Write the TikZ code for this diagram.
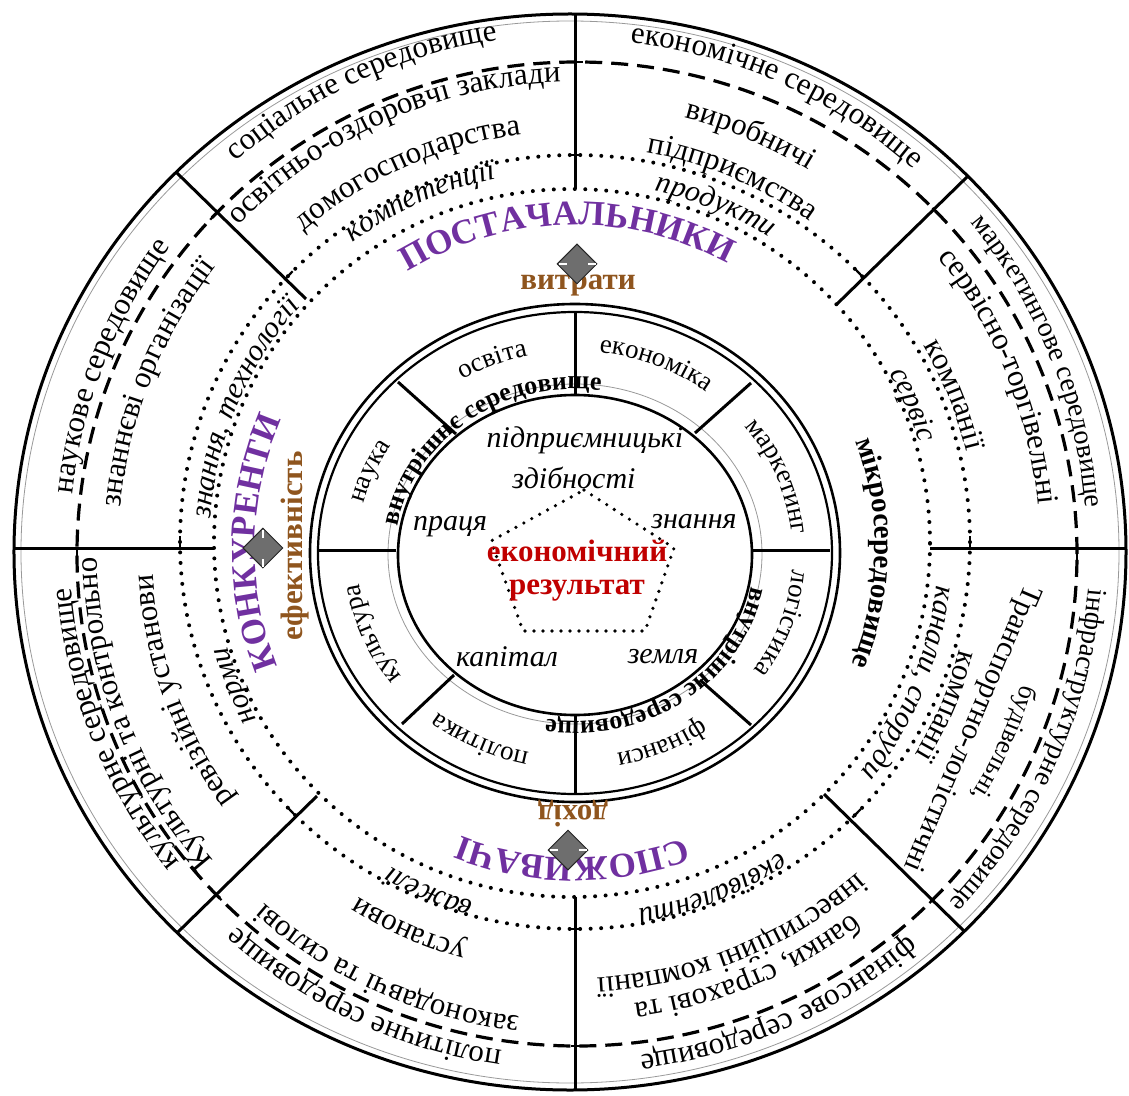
\documentclass[tikz,border=0pt]{standalone}
\usepackage{fontspec}
\setmainfont{Liberation Serif}
\usetikzlibrary{decorations.text,shapes.geometric}
\definecolor{purp}{RGB}{112,48,160}
\definecolor{brn}{RGB}{143,85,30}
\definecolor{dred}{RGB}{192,0,0}
\definecolor{dmdgray}{RGB}{110,110,110}
\newcommand\fOut{\fontsize{31pt}{31pt}\selectfont}
\newcommand\fOutS{\fontsize{28pt}{28pt}\selectfont}
\newcommand\fSm{\fontsize{26pt}{26pt}\selectfont}
\newcommand\fIt{\fontsize{30pt}{30pt}\selectfont\itshape}
\newcommand\fIn{\fontsize{27pt}{27pt}\selectfont}
\newcommand\fW{\fontsize{26pt}{26pt}\selectfont\bfseries}
\newcommand\fP{\fontsize{35pt}{35pt}\selectfont\bfseries}
\newcommand\fM{\fontsize{29pt}{29pt}\selectfont\bfseries}
% text along a circular arc (clockwise), centred on angle #2
\newcommand\arcT[5]{\path[decorate,decoration={text along path,text align=center,text={|#4|#5}}] ({#2+#3}:#1) arc[start angle={#2+#3},end angle={#2-#3},radius=#1];}
\newcommand\arcTc[6]{\path[decorate,decoration={text along path,text align=center,text color=#6,text={|#4|#5}}] ({#2+#3}:#1) arc[start angle={#2+#3},end angle={#2-#3},radius=#1];}
% text along an elliptic arc with centre (#1,#2)
\newcommand\arcE[8]{\path[shift={(#1,#2)},decorate,decoration={text along path,text align=center,text={|#7|#8}}] ({#5+#6}:#3 and #4) arc[start angle={#5+#6},end angle={#5-#6},x radius=#3,y radius=#4];}
\begin{document}
\begin{tikzpicture}[x=1pt,y=1pt,
  sline/.style={line width=3pt},
  tickst/.style={line width=2.2pt},
  dashline/.style={line width=3.2pt,dash pattern=on 17pt off 9pt},
  dotline/.style={line width=4pt,dash pattern=on 0pt off 10.5pt,line cap=round},
  pdot/.style={line width=3.6pt,dash pattern=on 0pt off 9pt,line cap=round},
  itl/.style={font=\fontsize{30pt}{30pt}\selectfont\itshape,inner sep=0pt},
  redb/.style={font=\fontsize{31pt}{31pt}\selectfont\bfseries,text=dred,inner sep=0pt},
  brnb/.style={font=\fontsize{31pt}{31pt}\selectfont\bfseries,text=brn,inner sep=0pt},
  dmd/.style={diamond,draw=black!85,fill=dmdgray,line width=1pt,minimum width=40pt,minimum height=40pt,inner sep=0pt},
  notch/.style={white,line width=1.4pt}]
\useasboundingbox (-575,-547) rectangle (554,548);

% ---- circles ----
\draw[line width=3pt] (-5,-4) ellipse[x radius=556,y radius=538];
\draw[line width=0.8pt,black!40] (-5,-4) ellipse[x radius=549,y radius=531];
\draw[dashline] (2,-6) ellipse[x radius=500,y radius=492];
\draw[dotline] (0,6) ellipse[x radius=395,y radius=387];
\draw[dotline] (-3,5) ellipse[x radius=358,y radius=354];
\draw[line width=2.6pt] (0,-5) ellipse[x radius=265,y radius=249];
\draw[line width=2.2pt] (0,-5) ellipse[x radius=257,y radius=241];
\draw[line width=0.8pt,black!40] (0,-6) ellipse[x radius=187,y radius=170];
\draw[line width=2.6pt] (0,-7) ellipse[x radius=177,y radius=160];

% ---- outer radial lines ----
\draw[sline] (0,534) -- (0,359);
\draw[sline] (0,-349) -- (0,-542);
\draw[sline] (-561,0) -- (-361,0);
\draw[sline] (355,0) -- (551,0);
\draw[sline] (-398,375) -- (-269,249);
\draw[sline] (393,372) -- (262,244);
\draw[sline] (249,-246) -- (390,-384);
\draw[sline] (-258,-248) -- (-398,-385);
% small cross ticks where the radial lines cross the dashed and dotted rings
\foreach \a in {90,44,0,-44.5,-90,-136,180,136.5}{
  \draw[tickst,shift={(2,-6)}] ([shift={(\a+90:6)}]\a:500 and 492) -- ([shift={(\a-90:6)}]\a:500 and 492);
  \draw[tickst,shift={(0,6)}] ([shift={(\a+90:6)}]\a:395 and 387) -- ([shift={(\a-90:6)}]\a:395 and 387);
}

% ---- inner radial lines ----
\draw[sline] (0,236) -- (0,153);
\draw[sline] (-177,166) -- (-119,114);
\draw[sline] (176,165) -- (120,115);
\draw[sline] (177,-2) -- (255,-2);
\draw[sline] (125,-132) -- (176,-177);
\draw[sline] (0,-167) -- (0,-246);
\draw[sline] (-121,-127) -- (-173,-176);
\draw[sline] (-257,-2) -- (-179,-2);

% ---- pentagon ----
\draw[pdot] (9,58) -- (99,0) -- (70,-83) -- (-52,-83) -- (-84,7) -- cycle;

% ---- outer ring texts ----
\arcT{514}{115}{40}{\fOut}{соціальне середовище}
\arcT{508}{66}{40}{\fOut}{економічне середовище}
\arcT{512}{22}{40}{\fOutS}{маркетингове середовище}
\arcT{515}{-24}{40}{\fOutS}{інфраструктурне середовище}
\arcT{511}{-66}{40}{\fOut}{фінансове середовище}
\arcT{508}{-115}{40}{\fOut}{політичне середовище}
\arcT{505}{201.5}{40}{\fOut}{культурне середовище}
\arcT{505}{158.6}{40}{\fOut}{наукове середовище}

% ---- middle ring texts ----
\arcT{466}{114}{40}{\fOut}{освітньо-оздоровчі заклади}
\arcT{417}{114}{40}{\fOut}{домогосподарства}
\arcT{378}{114}{30}{\fIt}{компетенції}
\arcT{444}{67}{30}{\fOut}{виробничі}
\arcT{402}{67}{30}{\fOut}{підприємства}
\arcT{366}{67.7}{30}{\fIt}{продукти}
\arcT{465}{22}{40}{\fOut}{сервісно-торгівельні}
\arcT{403}{22}{30}{\fOut}{компанії}
\arcT{360}{23}{30}{\fIt}{сервіс}
\arcT{467}{-24.5}{25}{\fSm}{будівельні,}
\path[decorate,decoration={text along path,text align=center,text={|\fontsize{30pt}{30pt}\selectfont|Транспортно-логістичні}}] (458,-18) -- (322,-336);
\arcT{398}{-23}{30}{\fOut}{компанії}
\arcT{363}{-22}{35}{\fIt}{канали, споруди}
\arcT{459}{-67.7}{40}{\fOut}{банки, страхові та}
\arcT{430}{-68}{40}{\fOut}{інвестиційні компанії}
\arcT{367}{-68}{30}{\fIt}{еквіваленти}
\arcT{472}{-114}{40}{\fOut}{законодавчі та силові}
\arcT{411}{-113.5}{30}{\fOut}{установи}
\arcT{368}{-113}{30}{\fIt}{важелі}
\arcT{478}{201}{40}{\fOut}{Культурні та контрольно}
\arcT{423}{200}{40}{\fOut}{ревізійні установи}
\arcT{361}{202}{25}{\fIt}{норми}
\arcT{456}{158.4}{40}{\fOut}{знаннєві організації}
\arcT{366}{157}{40}{\fIt}{знання, технології}

% ---- big labels ----
\arcTc{323}{91.5}{45}{\fP}{ПОСТАЧАЛЬНИКИ}{purp}
\arcTc{320}{179}{40}{\fP}{КОНКУРЕНТИ}{purp}
\arcTc{310}{-90.5}{40}{\fP}{СПОЖИВАЧІ}{purp}
\arcT{300}{-1}{40}{\fM}{мікросередовище}

% ---- inner ring labels ----
\arcE{0}{-6}{218}{203}{112}{30}{\fIn}{освіта}
\arcE{0}{-6}{218}{203}{68}{30}{\fIn}{економіка}
\arcE{0}{-6}{218}{203}{22}{30}{\fIn}{маркетинг}
\arcE{0}{-6}{218}{203}{-19.4}{30}{\fIn}{логістика}
\arcE{0}{-6}{218}{203}{-66.5}{30}{\fIn}{фінанси}
\arcE{0}{-6}{218}{203}{-115.8}{30}{\fIn}{політика}
\arcE{0}{-6}{218}{203}{202.5}{30}{\fIn}{культура}
\arcE{0}{-6}{218}{203}{157}{30}{\fIn}{наука}
\arcE{0}{-7}{180}{166}{126.5}{60}{\fW}{внутрішнє середовище}
\arcE{0}{-7}{180}{166}{-54.5}{60}{\fW}{внутрішнє середовище}

% ---- centre ----
\node[itl] (pidpr) at (10,108) {підприємницькі};
\node[itl] (zdib) at (-1,70) {здібності};
\node[itl] (pratsia) at (-125,21) {праця};
\node[itl] (znannia) at (119,26) {знання};
\node[itl] (kapital) at (-68,-109) {капітал};
\node[itl] (zemlia) at (88,-109) {земля};
\node[redb] (ekon) at (2,-3) {економічний};
\node[redb] (rez) at (2,-43) {результат};

% ---- brown labels ----
\node[brnb] (vytraty) at (3,263) {витрати};
\node[brnb,rotate=180] (dokhid) at (-2,-266) {дохід};
\node[brnb,rotate=90] (efekt) at (-280,2) {ефективність};

% ---- diamonds ----
\node[dmd] (dtop) at (2,284) {};
\node[dmd] (dleft) at (-312,0) {};
\node[dmd] (dbot) at (-7,-302) {};
\draw[notch] ([xshift=2pt]dtop.west) -- ++(8,0);
\draw[notch] ([xshift=-2pt]dtop.east) -- ++(-8,0);
\draw[notch] ([xshift=2pt]dbot.west) -- ++(8,0);
\draw[notch] ([xshift=-2pt]dbot.east) -- ++(-8,0);
\draw[notch] ([yshift=-2pt]dleft.north) -- ++(0,-8);
\draw[notch] ([yshift=2pt]dleft.south) -- ++(0,8);
\end{tikzpicture}
\end{document}
